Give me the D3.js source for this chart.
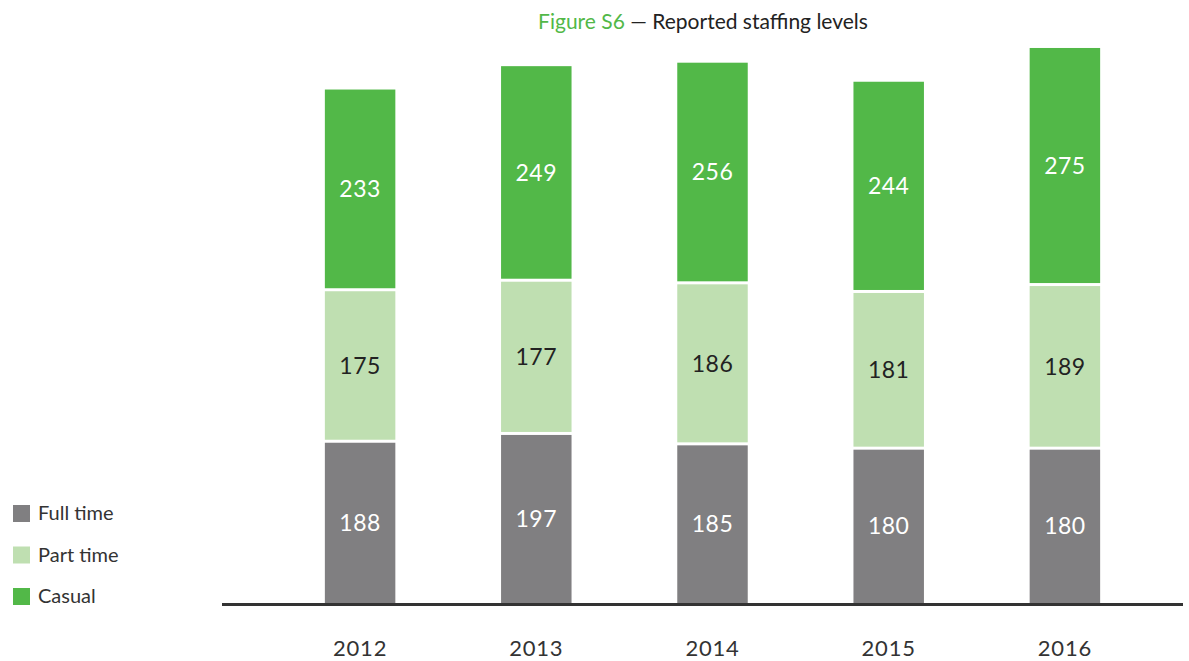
<!DOCTYPE html>
<html>
<head>
<meta charset="utf-8">
<script src="https://cdn.jsdelivr.net/npm/d3@7"></script>
<style>
  body { margin: 0; background: #fff; }
  svg { font-family: "Lato", "Noto Sans", sans-serif; }
</style>
</head>
<body>
<svg width="1189" height="661"></svg>
<script>
// data
var years = ["2012", "2013", "2014", "2015", "2016"];
var fullTime = [188, 197, 185, 180, 180];
var partTime = [175, 177, 186, 181, 189];
var casual = [233, 249, 256, 244, 275];
var seriesNames = ["Full time", "Part time", "Casual"];

var colors = ["#807f81", "#bfdfb1", "#52b848"];
var labelColors = ["#fff", "#222", "#fff"];

var svg = d3.select("svg"),
  baseY = 604;

var rows = years.map(function(y, i) {
  return { year: y, "Full time": fullTime[i], "Part time": partTime[i], "Casual": casual[i] };
});

var x = d3.scaleBand()
  .domain(years)
  .range([272, 1153])
  .paddingInner(0.6)
  .paddingOuter(0.3);

var y = d3.scaleLinear()
  .domain([0, 700])
  .range([baseY, -2]);

var stack = d3.stack().keys(seriesNames)(rows);

// title
var title = svg.append("text")
  .attr("x", 703)
  .attr("y", 29)
  .attr("text-anchor", "middle")
  .style("font-size", "21px");
title.append("tspan").attr("fill", "#52b848").text("Figure S6");
title.append("tspan").attr("fill", "#222").text(" \u2014 Reported staffing levels");

// bars
var layers = svg.selectAll("g.layer")
  .data(stack)
  .enter().append("g")
  .attr("class", "layer")
  .attr("fill", function(d, i) { return colors[i]; });

layers.selectAll("rect")
  .data(function(d) { return d; })
  .enter().append("rect")
  .attr("x", function(d) { return x(d.data.year); })
  .attr("width", x.bandwidth())
  .attr("y", function(d) { return y(d[1]) + 1.5; })
  .attr("height", function(d) { return Math.max(0, y(d[0]) - y(d[1]) - 1.5 - (d[0] > 0 ? 1.5 : 0)); });

layers.each(function(layer, li) {
  d3.select(this).selectAll("text")
    .data(layer)
    .enter().append("text")
    .attr("x", function(d) { return x(d.data.year) + x.bandwidth() / 2; })
    .attr("y", function(d) { return (y(d[0]) + y(d[1])) / 2; })
    .attr("dy", "0.36em")
    .attr("text-anchor", "middle")
    .attr("fill", labelColors[li])
    .style("font-size", "23px")
    .style("letter-spacing", "0.5px")
    .text(function(d) { return d[1] - d[0]; });
});

// baseline
svg.append("line")
  .attr("x1", 222)
  .attr("x2", 1183)
  .attr("y1", baseY + 0.5)
  .attr("y2", baseY + 0.5)
  .attr("stroke", "#333")
  .attr("stroke-width", 3);

// year labels
svg.selectAll("text.year")
  .data(years)
  .enter().append("text")
  .attr("class", "year")
  .attr("x", function(d) { return x(d) + x.bandwidth() / 2; })
  .attr("y", 656)
  .attr("text-anchor", "middle")
  .attr("fill", "#333")
  .style("font-size", "22px")
  .style("letter-spacing", "0.8px")
  .text(function(d) { return d; });

// legend
var legend = svg.selectAll("g.legend")
  .data(seriesNames)
  .enter().append("g")
  .attr("class", "legend")
  .attr("transform", function(d, i) { return "translate(13," + (505 + i * 41.5) + ")"; });

legend.append("rect")
  .attr("width", 17)
  .attr("height", 17)
  .attr("fill", function(d, i) { return colors[i]; });

legend.append("text")
  .attr("x", 25)
  .attr("y", 15)
  .attr("fill", "#333")
  .style("font-size", "20px")
  .text(function(d) { return d; });
</script>
</body>
</html>
